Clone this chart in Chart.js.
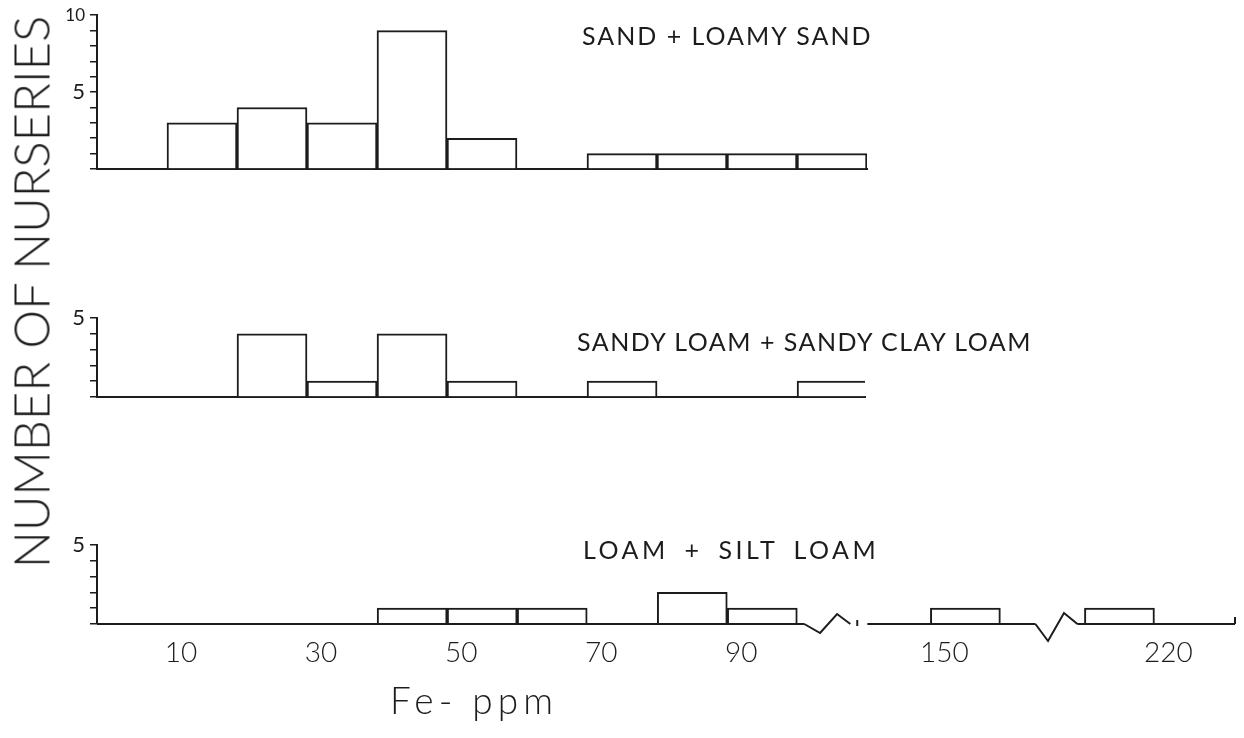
<!DOCTYPE html>
<html>
<head>
<meta charset="utf-8">
<title>Fe-ppm by soil texture</title>
<script src="https://cdn.jsdelivr.net/npm/chart.js@4.4.1/dist/chart.umd.min.js"></script>
<style>
  html, body { margin: 0; padding: 0; background: #fff; }
  #page { position: relative; width: 1244px; height: 738px; overflow: hidden;
          font-family: Lato, "Open Sans", sans-serif; color: #1c1c1c; }
  #page canvas { position: absolute; left: 0; top: 0; }
  .lbl { position: absolute; white-space: nowrap; line-height: 1; }
  #ytitle { left: 31px; top: 292px; font-size: 49px; font-weight: 300;
            transform: translate(-50%, -50%) rotate(-90deg); }
  #t1 { left: 582px; top: 23px; font-size: 25px; letter-spacing: 2px; }
  #t2 { left: 577px; top: 329px; font-size: 25px; letter-spacing: 1.5px; }
  #t3 { left: 583px; top: 537px; font-size: 25px; letter-spacing: 3.5px; word-spacing: 6px; }
  #xtitle { left: 390px; top: 681px; font-size: 37px; font-weight: 300; letter-spacing: 5px; }
</style>
</head>
<body>
<div id="page">
  <canvas id="sand" width="1244" height="738"></canvas>
  <canvas id="sandyLoam" width="1244" height="738"></canvas>
  <canvas id="loam" width="1244" height="738"></canvas>
  <div class="lbl" id="ytitle">NUMBER OF NURSERIES</div>
  <div class="lbl" id="t1">SAND + LOAMY SAND</div>
  <div class="lbl" id="t2">SANDY LOAM + SANDY CLAY LOAM</div>
  <div class="lbl" id="t3">LOAM + SILT LOAM</div>
  <div class="lbl" id="xtitle">Fe- ppm</div>
</div>
<script>
// Histogram bins: lower edge of each 10-ppm class and the number of nurseries in it
const binWidth = 10;

const sandBins = [10, 20, 30, 40, 50, 60, 70, 80, 90, 100];
const sandCounts = [3, 4, 3, 9, 2, 0, 1, 1, 1, 1];

const sandyLoamBins = [20, 30, 40, 50, 70, 100];
const sandyLoamCounts = [4, 1, 4, 1, 1, 1];

const loamBins = [40, 50, 60, 80, 90, 150, 210];
const loamCounts = [1, 1, 1, 2, 1, 1, 1];

// Fe-ppm tick labels along the bottom axis
const feTicks = [10, 30, 50, 70, 90, 150, 220];
// Count labels shown on the vertical axes
const countLabels = [5, 10];

// Broken Fe axis: each piece is shifted left so the empty ranges are cut out
const axisSegments = [
  { from: 0,   to: 101,   shift: 0 },
  { from: 141, to: 165,   shift: 31 },
  { from: 209, to: 231.5, shift: 69 }
];
function toAxis(ppm) {
  let seg = axisSegments[0];
  for (const s of axisSegments) if (ppm >= s.from) seg = s;
  return ppm - seg.shift;
}

const INK = '#1c1c1c';
const Y_AXIS_W = 60;
const X_AXIS_H = 44;
const W = 1244, H = 738;

// Draws the baseline of the bottom panel with zig-zag break marks between pieces
const brokenAxis = {
  id: 'brokenAxis',
  afterDatasetsDraw(chart, args, opts) {
    const xs = chart.scales.x;
    const y0 = chart.scales.y.getPixelForValue(0);
    const c = chart.ctx;
    c.save();
    c.strokeStyle = INK;
    c.lineWidth = 2;
    c.lineJoin = 'miter';
    c.beginPath();
    axisSegments.forEach((seg, i) => {
      const a = xs.getPixelForValue(toAxis(seg.from));
      const b = xs.getPixelForValue(toAxis(seg.to));
      c.moveTo(a, y0);
      c.lineTo(b, y0);
      const next = axisSegments[i + 1];
      if (next) {
        const n = xs.getPixelForValue(toAxis(next.from));
        const zig = opts.zigs[i];
        c.moveTo(b, y0);
        zig.points.forEach(([f, dy]) => c.lineTo(b + f * (n - b), y0 + dy));
        if (zig.tick) {
          const tx = b + zig.tick[0] * (n - b);
          c.moveTo(tx, y0 + zig.tick[1]);
          c.lineTo(tx, y0 + zig.tick[2]);
        }
      } else {
        c.moveTo(b, y0);
        c.lineTo(b, y0 - opts.endTick);
      }
    });
    c.stroke();
    c.restore();
  }
};

function makePanel(id, bins, counts, cfg) {
  const data = bins.map((lo, i) => ({ x: toAxis(lo + binWidth / 2), y: counts[i] }));
  return new Chart(document.getElementById(id), {
    type: 'bar',
    data: {
      datasets: [{
        data: data,
        backgroundColor: 'rgba(255,255,255,1)',
        borderColor: INK,
        borderWidth: 2,
        borderSkipped: 'bottom',
        barPercentage: 1,
        categoryPercentage: 1,
        grouped: false
      }]
    },
    options: {
      responsive: false,
      animation: false,
      devicePixelRatio: 1,
      layout: {
        padding: {
          left: 97 - Y_AXIS_W,
          top: cfg.top,
          right: W - cfg.right,
          bottom: H - cfg.bottom - X_AXIS_H
        }
      },
      plugins: {
        legend: { display: false },
        tooltip: { enabled: false },
        brokenAxis: cfg.broken || {}
      },
      scales: {
        x: {
          type: 'linear',
          min: 0,
          max: cfg.xMax,
          offset: false,
          afterFit: s => { s.height = X_AXIS_H; },
          afterBuildTicks: s => {
            s.ticks = feTicks.map(v => ({ value: toAxis(v) }));
          },
          grid: { display: true, drawOnChartArea: false, drawTicks: false, tickLength: 0 },
          border: { display: !cfg.broken, color: INK, width: 2 },
          ticks: {
            display: !!cfg.showTicks,
            autoSkip: false,
            maxRotation: 0,
            padding: 12,
            labelOffset: 14,
            color: INK,
            font: { family: 'Lato', size: 28, weight: '300' },
            callback: (v, i) => String(feTicks[i])
          }
        },
        y: {
          min: 0,
          max: cfg.yMax,
          afterFit: s => { s.width = Y_AXIS_W; },
          grid: { drawOnChartArea: false, drawTicks: true, tickLength: 7, color: INK, lineWidth: 1.5 },
          border: { display: true, color: INK, width: 2 },
          ticks: {
            stepSize: 1,
            autoSkip: false,
            padding: 5,
            color: INK,
            font: c => ({ family: 'Lato', size: (c.tick && c.tick.value === 10) ? 17 : 22 }),
            callback: v => countLabels.includes(v) ? String(v) : ''
          }
        }
      }
    },
    plugins: cfg.broken ? [brokenAxis] : []
  });
}

makePanel('sand', sandBins, sandCounts,
  { top: 12, bottom: 169, right: 867, xMax: 110, yMax: 10 });

makePanel('sandyLoam', sandyLoamBins, sandyLoamCounts,
  { top: 318, bottom: 397, right: 865, xMax: 109.7, yMax: 5 });

makePanel('loam', loamBins, loamCounts, {
  top: 545, bottom: 624, right: 1235, xMax: toAxis(231.5), yMax: 5, showTicks: true,
  broken: {
    zigs: [
      { points: [[0.25, 9], [0.52, -10], [0.73, 0]], tick: [0.84, -4, 2] },
      { points: [[0.3, 17], [0.68, -11], [1, 0]] }
    ],
    endTick: 7
  }
});
</script>
</body>
</html>
